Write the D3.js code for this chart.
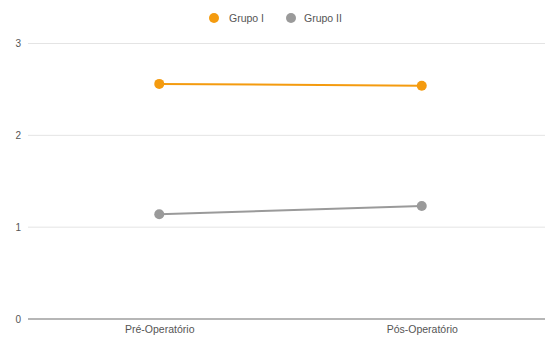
<!DOCTYPE html>
<html>
<head>
<meta charset="utf-8">
<script src="https://cdn.jsdelivr.net/npm/d3@7"></script>
<style>
  html, body { margin: 0; padding: 0; background: #fff; }
  svg { display: block; font-family: "Liberation Sans", Arial, sans-serif; }
</style>
</head>
<body>
<svg id="chart" width="545" height="338"></svg>
<script>
// Momentos de avaliação
const categories = ["Pré-Operatório", "Pós-Operatório"];
// Séries
const seriesNames = ["Grupo I", "Grupo II"];
const grupoI = [2.56, 2.54];
const grupoII = [1.14, 1.23];
const seriesColors = ["#f49b0f", "#9a9a9a"];
// Marcas do eixo Y
const yTicks = [0, 1, 2, 3];

const svg = d3.select("#chart");
const W = 545;

const x = d3.scalePoint().domain(categories).range([28, 553]).padding(0.5);
const y = d3.scaleLinear().domain([0, 3]).range([319, 43.5]);

// Linhas de grade
svg.append("g")
  .selectAll("line")
  .data(yTicks.filter(t => t > 0))
  .join("line")
  .attr("x1", 28).attr("x2", W)
  .attr("y1", d => y(d)).attr("y2", d => y(d))
  .attr("stroke", "#e4e4e4").attr("stroke-width", 1);

// Linha de base
svg.append("line")
  .attr("x1", 28).attr("x2", W)
  .attr("y1", y(0)).attr("y2", y(0))
  .attr("stroke", "#9e9e9e").attr("stroke-width", 1.5);

// Eixo Y
const yAxis = d3.axisLeft(y).tickValues(yTicks).tickSize(0).tickPadding(0).tickFormat(d3.format("d"));
const gy = svg.append("g").attr("transform", "translate(21,0)").call(yAxis);
gy.select(".domain").remove();
gy.selectAll("text").attr("font-size", 10).attr("fill", "#555").attr("font-family", "Liberation Sans, Arial, sans-serif");

// Eixo X
const xAxis = d3.axisBottom(x).tickSize(0).tickPadding(0);
const gx = svg.append("g").attr("transform", "translate(0,326)").call(xAxis);
gx.select(".domain").remove();
gx.selectAll("text").attr("font-size", 10.5).attr("fill", "#555").attr("font-family", "Liberation Sans, Arial, sans-serif");

// Séries
const series = [grupoI, grupoII];
const line = d3.line().x((d, i) => x(categories[i])).y(d => y(d));
series.forEach((vals, s) => {
  svg.append("path")
    .datum(vals)
    .attr("d", line)
    .attr("fill", "none")
    .attr("stroke", seriesColors[s])
    .attr("stroke-width", 2);
  svg.append("g")
    .selectAll("circle")
    .data(vals)
    .join("circle")
    .attr("cx", (d, i) => x(categories[i]))
    .attr("cy", d => y(d))
    .attr("r", 5)
    .attr("fill", seriesColors[s]);
});

// Legenda
const legendItems = [{ cx: 214, tx: 229 }, { cx: 291, tx: 304 }];
const legend = svg.append("g");
seriesNames.forEach((name, i) => {
  legend.append("circle")
    .attr("cx", legendItems[i].cx).attr("cy", 18).attr("r", 5)
    .attr("fill", seriesColors[i]);
  legend.append("text")
    .attr("x", legendItems[i].tx).attr("y", 18)
    .attr("dy", "0.35em")
    .attr("font-size", 10.5)
    .attr("fill", "#555")
    .text(name);
});
</script>
</body>
</html>
